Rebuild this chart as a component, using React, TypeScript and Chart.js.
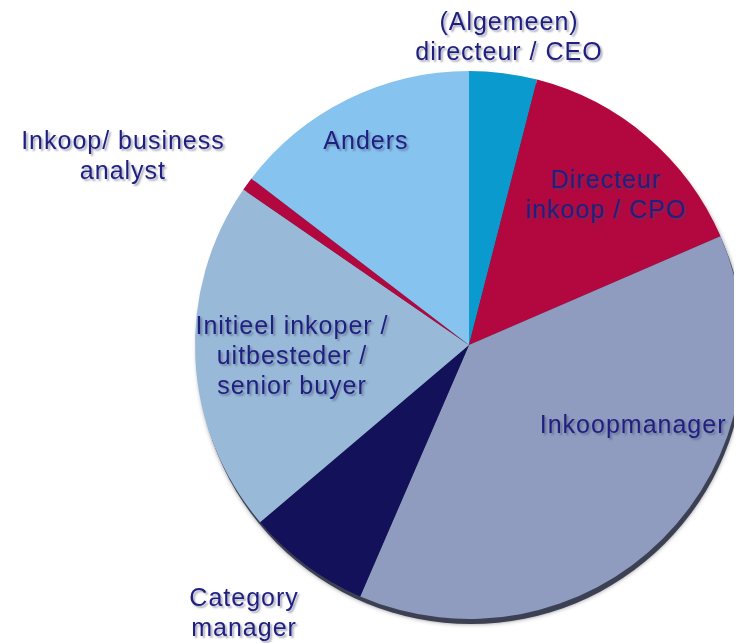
import React, { useEffect, useRef } from "react";
import { Chart, registerables } from "chart.js";

Chart.register(...registerables);

// ---- data ----
const categories = [
  "(Algemeen) directeur / CEO",
  "Directeur inkoop / CPO",
  "Inkoopmanager",
  "Category manager",
  "Initieel inkoper / uitbesteder / senior buyer",
  "Inkoop/ business analyst",
  "Anders",
];
const values = [4, 14.5, 38, 7.3, 20.8, 0.8, 14.6];
const labelLines = [
  ["(Algemeen)", "directeur / CEO"],
  ["Directeur", "inkoop / CPO"],
  ["Inkoopmanager"],
  ["Category", "manager"],
  ["Initieel inkoper /", "uitbesteder /", "senior buyer"],
  ["Inkoop/ business", "analyst"],
  ["Anders"],
];

// ---- styles / layout ----
const sliceColors = ["#0b9acd", "#b3073f", "#8f9bbf", "#13115a", "#98b9d7", "#b3073f", "#86c3ee"];
// label anchor relative to pie centre, in units of the outer radius
const labelAnchors: [number, number][] = [
  [0.146, -1.12],
  [0.5, -0.544],
  [0.599, 0.296],
  [-0.821, 0.982],
  [-0.646, 0.044],
  [-1.263, -0.686],
  [-0.376, -0.741],
];

const shadowPlugin = {
  id: "pieShadow",
  beforeDatasetsDraw(chart: any) {
    const meta = chart.getDatasetMeta(0);
    const arc = meta.data[0];
    if (!arc) return;
    const { x, y, outerRadius } = arc.getProps(["x", "y", "outerRadius"], true);
    const ctx = chart.ctx;
    ctx.save();
    ctx.fillStyle = "#3b4052";
    ctx.shadowColor = "rgba(40,40,60,0.5)";
    ctx.shadowBlur = 4;
    ctx.beginPath();
    ctx.arc(x + 2, y + 5, outerRadius, 0, Math.PI * 2);
    ctx.fill();
    ctx.restore();
  },
};

const labelPlugin = {
  id: "pieLabels",
  afterDatasetsDraw(chart: any) {
    const meta = chart.getDatasetMeta(0);
    const arc = meta.data[0];
    if (!arc) return;
    const { x, y, outerRadius } = arc.getProps(["x", "y", "outerRadius"], true);
    const ctx = chart.ctx;
    ctx.save();
    ctx.font = '25px "Liberation Sans", Arial, sans-serif';
    (ctx as any).letterSpacing = "1px";
    ctx.textAlign = "center";
    ctx.textBaseline = "middle";
    ctx.fillStyle = "#1f1f80";
    ctx.shadowColor = "rgba(70,70,110,0.45)";
    ctx.shadowOffsetX = 2;
    ctx.shadowOffsetY = 2;
    ctx.shadowBlur = 2;
    const lh = 30;
    labelLines.forEach((lines, i) => {
      const [fx, fy] = labelAnchors[i];
      const cx = x + fx * outerRadius;
      const cy = y + fy * outerRadius;
      const top = cy - ((lines.length - 1) * lh) / 2;
      lines.forEach((t, j) => ctx.fillText(t, cx, top + j * lh));
    });
    ctx.restore();
  },
};

export default function App() {
  const ref = useRef<HTMLCanvasElement>(null);
  useEffect(() => {
    if (!ref.current) return;
    const chart = new Chart(ref.current, {
      type: "pie",
      data: {
        labels: categories,
        datasets: [
          {
            data: values,
            backgroundColor: sliceColors,
            borderWidth: 0,
          },
        ],
      },
      options: {
        responsive: false,
        animation: false,
        layout: { padding: { left: 187, right: 25, top: 63, bottom: 24 } },
        plugins: {
          legend: { display: false },
          tooltip: { enabled: false },
        },
      },
      plugins: [shadowPlugin, labelPlugin],
    });
    return () => chart.destroy();
  }, []);
  return (
    <div style={{ width: 734, height: 635, overflow: "hidden" }}>
      <canvas ref={ref} width={760} height={635} style={{ display: "block" }} />
    </div>
  );
}
